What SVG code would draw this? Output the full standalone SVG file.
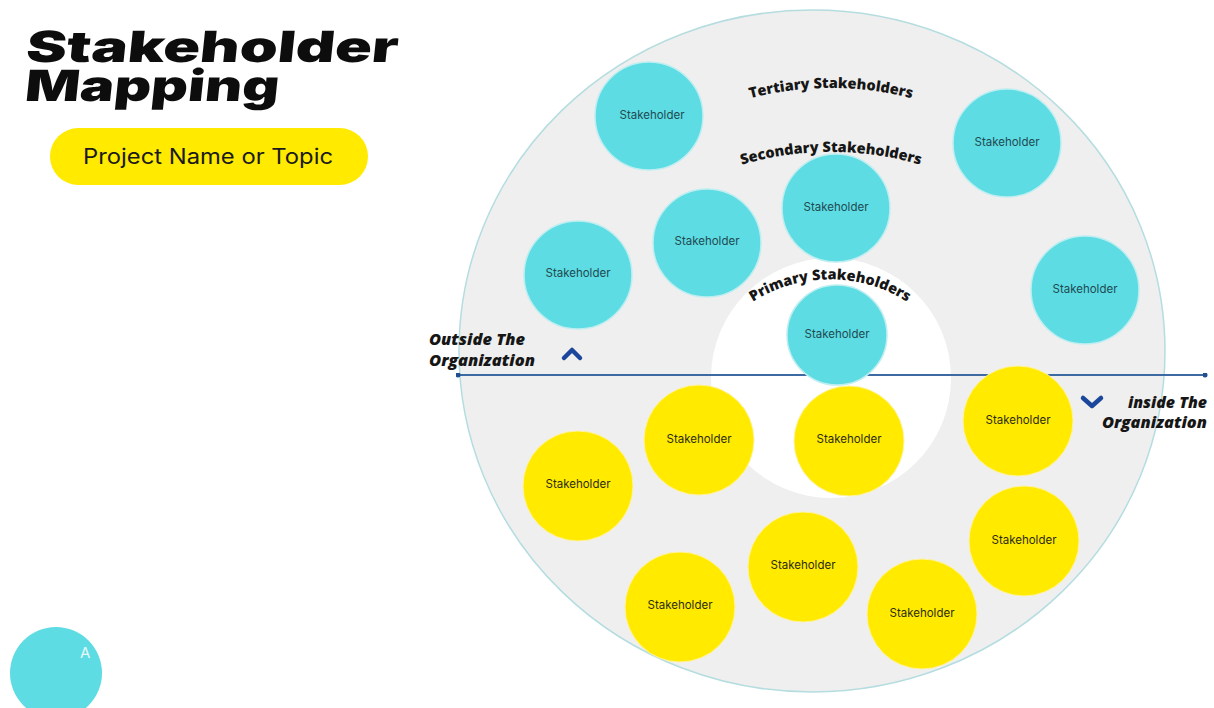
<svg xmlns="http://www.w3.org/2000/svg" width="1214" height="708" viewBox="0 0 1214 708">
  <style>
    .title { font-family: Inter, "Liberation Sans", sans-serif; font-weight: 900; font-size: 43px; fill: #0d0d0d; }
    .pilltext { font-family: Inter, "Liberation Sans", sans-serif; font-weight: 400; font-size: 21px; fill: #1a1a1a; }
    .ring { font-family: "Open Sans", Lato, sans-serif; font-weight: 800; font-size: 14.5px; fill: #161616; }
    .side { font-family: "Open Sans", "Liberation Sans", sans-serif; font-weight: 800; font-style: italic; font-size: 15px; fill: #161616; }
    .cyan { fill: #5ddce3; stroke: #bfeef1; stroke-width: 1.5; }
    .yellow { fill: #ffea00; stroke: #fff3a0; stroke-width: 1; }
    .lbl { font-family: Inter, "Liberation Sans", sans-serif; font-size: 11.5px; text-anchor: middle; dominant-baseline: middle; }
    .lbl-c { fill: #1f4a52; }
    .lbl-y { fill: #2e2c10; }
    .chev { fill: none; stroke: #1a479c; stroke-width: 4.5; stroke-linecap: round; stroke-linejoin: round; }
  </style>
  <defs>
    <path id="arcTertiary" d="M 700 116 A 320 320 0 0 1 962 116"/>
    <path id="arcSecondary" d="M 700 180 A 320 320 0 0 1 962 180"/>
    <path id="arcPrimary" d="M 740 311 A 144 144 0 0 1 920 311"/>
    <marker id="dot" viewBox="0 0 10 10" refX="5" refY="5" markerWidth="5" markerHeight="5" markerUnits="userSpaceOnUse">
      <circle cx="5" cy="5" r="5" fill="#1f4f8f"/>
    </marker>
  </defs>

  <rect width="1214" height="708" fill="#ffffff"/>

  <!-- heading -->
  <g id="heading">
    <text class="title" transform="translate(25,62) skewX(-6)" textLength="372" lengthAdjust="spacingAndGlyphs">Stakeholder</text>
    <text class="title" transform="translate(24,101) skewX(-6)" textLength="254" lengthAdjust="spacingAndGlyphs">Mapping</text>
  </g>

  <g id="topic">
    <rect x="50" y="128" width="318" height="57" rx="28.5" fill="#ffea00"/>
    <text class="pilltext" x="83" y="164" textLength="250" lengthAdjust="spacingAndGlyphs">Project Name or Topic</text>
  </g>

  <!-- corner badge -->
  <g id="badge">
    <circle cx="56" cy="673" r="46" fill="#5ddce3"/>
    <text x="80" y="658" font-family="Inter, 'Liberation Sans', sans-serif" font-size="15" fill="#ffffff" opacity="0.85">A</text>
  </g>

  <!-- rings -->
  <g id="tertiary-ring">
    <ellipse cx="812" cy="351" rx="353" ry="341" fill="#efefef" stroke="#b5dde0" stroke-width="1.5"/>
  </g>
  <g id="primary-ring">
    <circle cx="831" cy="378" r="120" fill="#ffffff"/>
  </g>

  <g id="ring-labels">
    <text class="ring"><textPath href="#arcTertiary" startOffset="50%" text-anchor="middle">Tertiary Stakeholders</textPath></text>
    <text class="ring"><textPath href="#arcSecondary" startOffset="50%" text-anchor="middle">Secondary Stakeholders</textPath></text>
    <text class="ring"><textPath href="#arcPrimary" startOffset="50%" text-anchor="middle">Primary Stakeholders</textPath></text>
  </g>

  <!-- divider between outside / inside -->
  <g id="connectors">
    <line x1="458" y1="375" x2="1205" y2="375" stroke="#3d6aa3" stroke-width="2" marker-start="url(#dot)" marker-end="url(#dot)"/>
  </g>

  <!-- external stakeholders (cyan) -->
  <g id="ext-1"><circle class="cyan" cx="649" cy="116" r="54"/><text class="lbl lbl-c" x="652" y="116">Stakeholder</text></g>
  <g id="ext-2"><circle class="cyan" cx="1007" cy="143" r="54"/><text class="lbl lbl-c" x="1007" y="143">Stakeholder</text></g>
  <g id="ext-3"><circle class="cyan" cx="836" cy="208" r="54"/><text class="lbl lbl-c" x="836" y="208">Stakeholder</text></g>
  <g id="ext-4"><circle class="cyan" cx="707" cy="243" r="54"/><text class="lbl lbl-c" x="707" y="242">Stakeholder</text></g>
  <g id="ext-5"><circle class="cyan" cx="578" cy="275" r="54"/><text class="lbl lbl-c" x="578" y="274">Stakeholder</text></g>
  <g id="ext-6"><circle class="cyan" cx="1085" cy="290" r="54"/><text class="lbl lbl-c" x="1085" y="290">Stakeholder</text></g>
  <g id="ext-7"><circle class="cyan" cx="837" cy="335" r="50"/><text class="lbl lbl-c" x="837" y="335">Stakeholder</text></g>

  <!-- internal stakeholders (yellow) -->
  <g id="int-1"><circle class="yellow" cx="699" cy="440" r="55"/><text class="lbl lbl-y" x="699" y="440">Stakeholder</text></g>
  <g id="int-2"><circle class="yellow" cx="849" cy="441" r="55"/><text class="lbl lbl-y" x="849" y="440">Stakeholder</text></g>
  <g id="int-3"><circle class="yellow" cx="1018" cy="421" r="55"/><text class="lbl lbl-y" x="1018" y="421">Stakeholder</text></g>
  <g id="int-4"><circle class="yellow" cx="578" cy="486" r="55"/><text class="lbl lbl-y" x="578" y="485">Stakeholder</text></g>
  <g id="int-5"><circle class="yellow" cx="1024" cy="541" r="55"/><text class="lbl lbl-y" x="1024" y="541">Stakeholder</text></g>
  <g id="int-6"><circle class="yellow" cx="803" cy="567" r="55"/><text class="lbl lbl-y" x="803" y="566">Stakeholder</text></g>
  <g id="int-7"><circle class="yellow" cx="680" cy="607" r="55"/><text class="lbl lbl-y" x="680" y="606">Stakeholder</text></g>
  <g id="int-8"><circle class="yellow" cx="922" cy="614" r="55"/><text class="lbl lbl-y" x="922" y="614">Stakeholder</text></g>

  <!-- side captions -->
  <g id="outside-label">
    <text class="side" x="429" y="345" textLength="96" lengthAdjust="spacingAndGlyphs">Outside The</text>
    <text class="side" x="429" y="366" textLength="106" lengthAdjust="spacingAndGlyphs">Organization</text>
    <polyline class="chev" points="564,358 572,350 580,358"/>
  </g>
  <g id="inside-label">
    <text class="side" x="1128" y="408" textLength="79" lengthAdjust="spacingAndGlyphs">inside The</text>
    <text class="side" x="1102" y="428" textLength="105" lengthAdjust="spacingAndGlyphs">Organization</text>
    <polyline class="chev" points="1083,398 1092,406 1101,398"/>
  </g>
</svg>
